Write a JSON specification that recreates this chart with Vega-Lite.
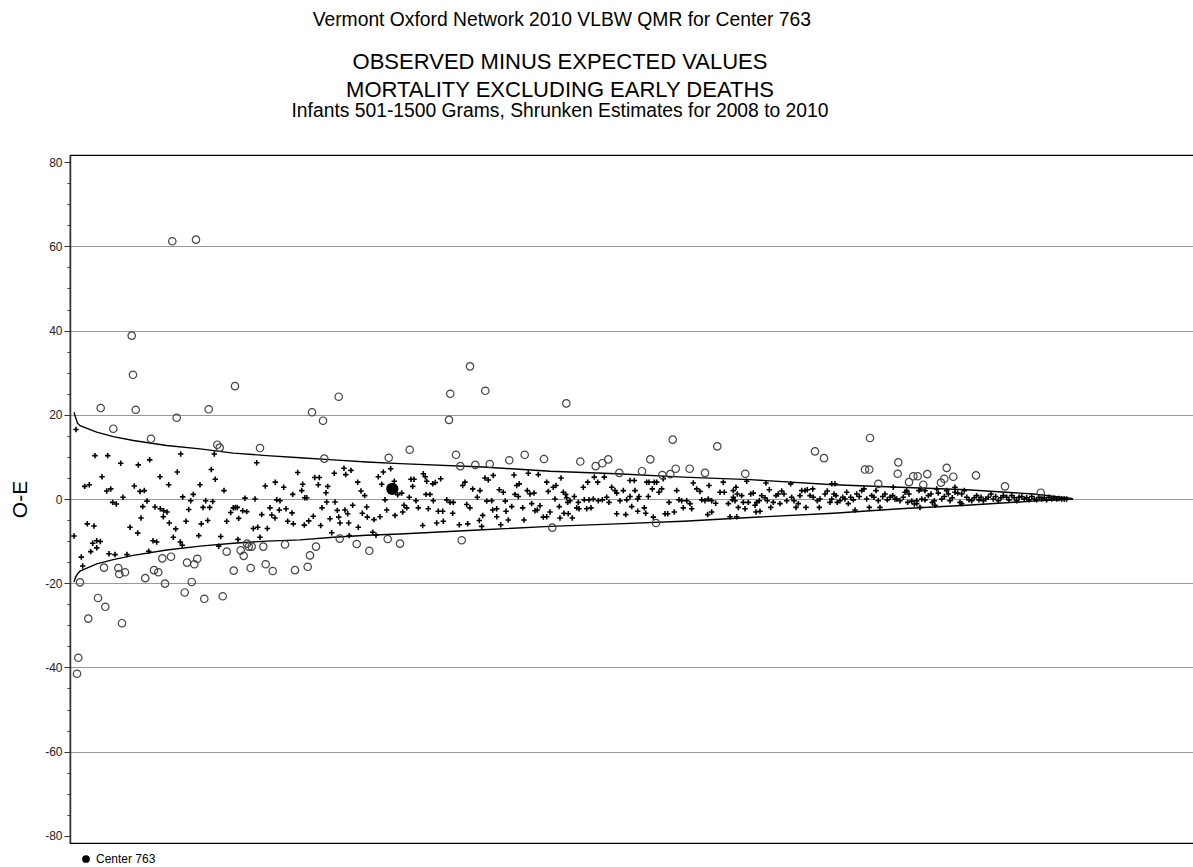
{
"$schema": "https://vega.github.io/schema/vega-lite/v6.json",
"background": "white",
"padding": {"left": 9, "top": 10, "right": 0, "bottom": 0},
"title": {"text": "Vermont Oxford Network 2010 VLBW QMR for Center 763", "fontSize": 19.3, "font": "Liberation Sans", "fontWeight": "normal", "color": "black", "anchor": "middle", "dx": -53, "offset": 20},
"datasets": {
"circles": [
{"r":8.3,"v":-37.7},{"r":7,"v":-41.5},{"r":18.3,"v":-28.4},{"r":28,"v":-23.5},{"r":35.3,"v":-25.6},{"r":52,"v":-29.5},{"r":10,"v":-19.8},{"r":48.3,"v":-16.4},{"r":49.3,"v":-17.8},{"r":55,"v":-17.4},{"r":34,"v":-16.3},{"r":75.3,"v":-18.8},{"r":84,"v":-16.9},{"r":88.3,"v":-17.4},{"r":95,"v":-20.1},{"r":92.3,"v":-14.1},{"r":101,"v":-13.7},{"r":114.7,"v":-22.2},{"r":117,"v":-15.1},{"r":124.3,"v":-15.5},{"r":127.3,"v":-14.2},{"r":121.7,"v":-19.7},{"r":134.3,"v":-23.7},{"r":152.7,"v":-23.1},{"r":156.7,"v":-12.5},{"r":163.7,"v":-17},{"r":170.7,"v":-12.2},{"r":173.7,"v":-13.5},{"r":177,"v":-10.6},{"r":178.7,"v":-11.3},{"r":181.7,"v":-11.3},{"r":180.7,"v":-16.4},{"r":193.3,"v":-11.3},{"r":195.7,"v":-15.5},{"r":202.7,"v":-17.1},{"r":215,"v":-10.8},{"r":225,"v":-16.9},{"r":237.7,"v":-16.1},{"r":240,"v":-13.4},{"r":246,"v":-11.3},{"r":269.7,"v":-9.4},{"r":286.7,"v":-10.7},{"r":299.3,"v":-12.3},{"r":317.7,"v":-9.5},{"r":330,"v":-10.6},
{"r":30.7,"v":21.6},{"r":65.7,"v":21.2},{"r":106.7,"v":19.3},{"r":138.7,"v":21.3},{"r":43.3,"v":16.7},{"r":81,"v":14.3},{"r":147.3,"v":12.9},{"r":149.7,"v":12.2},{"r":190,"v":12.1},{"r":242,"v":20.6},{"r":253,"v":18.6},{"r":254.3,"v":9.6},{"r":318.7,"v":9.8},{"r":102.3,"v":61.2},{"r":126,"v":61.6},{"r":61.7,"v":38.8},{"r":63,"v":29.5},{"r":165,"v":26.8},{"r":268.7,"v":24.3},{"r":400,"v":31.5},{"r":380.3,"v":25.0},{"r":415.3,"v":25.7},{"r":379,"v":18.8},{"r":496.3,"v":22.7},{"r":339.7,"v":11.7},{"r":386,"v":10.5},{"r":390.3,"v":7.8},{"r":405.3,"v":8.1},{"r":419.7,"v":8.3},{"r":439.3,"v":9.2},{"r":454.7,"v":10.5},{"r":474,"v":9.5},{"r":510.3,"v":8.9},{"r":525.7,"v":7.8},{"r":532.3,"v":8.5},{"r":538.3,"v":9.4},{"r":549.3,"v":6.2},{"r":572,"v":6.6},{"r":580.3,"v":9.4},{"r":592.3,"v":5.7},{"r":600.3,"v":5.9},{"r":605.7,"v":7.2},{"r":602.7,"v":14.1},{"r":619.7,"v":7.2},{"r":635,"v":6.2},{"r":647.3,"v":12.5},{"r":675.3,"v":6.0},{"r":391.7,"v":-9.8},{"r":482.3,"v":-6.8},{"r":586,"v":-5.7},{"r":745,"v":11.3},{"r":754,"v":9.7},{"r":795,"v":7.0},{"r":799.3,"v":7.0},{"r":828.3,"v":8.7},{"r":827.7,"v":6.0},{"r":808.3,"v":3.6},{"r":800,"v":14.5},{"r":843.3,"v":5.4},{"r":847.7,"v":5.4},{"r":857.3,"v":5.9},{"r":839,"v":4.0},{"r":853.3,"v":3.4},{"r":876.7,"v":7.4},{"r":883.3,"v":5.3},{"r":874.3,"v":4.8},{"r":871,"v":3.9},{"r":906,"v":5.6},{"r":935,"v":3.0},{"r":970.7,"v":1.5}
],
"crosses": [
{"r":6,"v":16.5},{"r":4,"v":-8.8},{"r":11.3,"v":-13.8},{"r":12.7,"v":-15.9},{"r":14.7,"v":3.0},{"r":19.3,"v":3.4},{"r":17.3,"v":-5.9},{"r":24,"v":-6.4},{"r":25,"v":10.3},{"r":32,"v":5.3},{"r":37.7,"v":10.3},{"r":22.7,"v":-10.5},{"r":26.7,"v":-9.9},{"r":30.3,"v":-10.1},{"r":20.7,"v":-12.5},{"r":26.7,"v":-11.6},{"r":36.7,"v":1.9},{"r":40.7,"v":2.4},{"r":42.7,"v":-0.8},{"r":46.3,"v":-1.2},{"r":39,"v":-13},{"r":45,"v":-13.2},{"r":50.7,"v":8.5},{"r":53,"v":0.4},{"r":57,"v":-13.2},{"r":60,"v":-6.7},{"r":64.3,"v":3.1},{"r":68.3,"v":8.1},{"r":67.7,"v":-8.1},{"r":70,"v":1.8},{"r":74.3,"v":2.0},{"r":71,"v":-4.5},{"r":72.7,"v":-1.8},{"r":77,"v":-0.5},{"r":78.7,"v":-12.4},{"r":79.7,"v":9.3},{"r":83,"v":-9.9},{"r":86.7,"v":-10.2},{"r":85,"v":-1.9},{"r":90,"v":5.3},{"r":90.3,"v":-2.3},{"r":93.7,"v":-2.8},{"r":93.3,"v":-4.2},{"r":97,"v":-3.1},{"r":98.7,"v":3.4},{"r":99.3,"v":-5.7},{"r":103.3,"v":-9.1},{"r":105.7,"v":-7.1},{"r":107.3,"v":6.4},{"r":110.7,"v":10.7},{"r":110.3,"v":-10.2},{"r":112.3,"v":-11},{"r":112.7,"v":0.5},{"r":116,"v":-5.3},{"r":118.7,"v":-2.5},{"r":120.7,"v":-0.4},{"r":123.3,"v":1.1},{"r":128.7,"v":-8.7},{"r":130,"v":3.4},{"r":131.3,"v":-5.9},{"r":133,"v":-2.0},{"r":135.7,"v":-0.4},{"r":137.7,"v":-5.1},{"r":139.7,"v":-2.0},{"r":141.3,"v":7.0},{"r":142.7,"v":-0.6},{"r":144.3,"v":10.7},{"r":145.3,"v":4.7},{"r":148.7,"v":-11.2},{"r":150.7,"v":-8.9},{"r":154,"v":2.0},{"r":156.7,"v":-5.3},{"r":160.7,"v":-3.2},{"r":163.3,"v":-2.1},{"r":165.3,"v":-2.0},{"r":167.3,"v":-2.0},{"r":168.7,"v":-4.6},{"r":168,"v":-9.6},{"r":172.7,"v":-2.8},{"r":176.7,"v":-3.0},{"r":175,"v":0.2},{"r":183.3,"v":-7.0},{"r":187.7,"v":-6.7},{"r":185,"v":0},{"r":186.7,"v":8.6},{"r":190,"v":-9.1},{"r":191.7,"v":-3.7},{"r":195.3,"v":3.1},{"r":197.3,"v":-7.0},{"r":200,"v":-2.1},{"r":201.7,"v":-3.8},{"r":205,"v":-4.5},{"r":205.3,"v":4.0},{"r":206.7,"v":-0.2},{"r":210,"v":-0.4},{"r":209.3,"v":-2.6},{"r":213.7,"v":2.8},{"r":216,"v":-2.3},{"r":217.7,"v":-5.3},{"r":223.3,"v":-5.9},{"r":222,"v":-3.3},{"r":222.7,"v":1.1},{"r":227.7,"v":6.3},{"r":231.7,"v":2.0},{"r":232.7,"v":3.5},{"r":234.7,"v":0.3},{"r":236.7,"v":0.3},{"r":234.3,"v":-6.2},{"r":238.7,"v":-5.2},{"r":243.3,"v":-4.1},{"r":244.7,"v":5.1},{"r":249.3,"v":5.1},{"r":248.3,"v":3.4},{"r":250.7,"v":-6.3},{"r":252,"v":-2.1},{"r":256,"v":1.5},{"r":257.7,"v":3.0},{"r":256.7,"v":-0.7},{"r":265,"v":-0.7},{"r":260,"v":-4.7},{"r":261.7,"v":-8.0},{"r":264.3,"v":6.1},{"r":267.3,"v":-2.7},{"r":268.7,"v":-4.3},{"r":270,"v":-5.7},{"r":274,"v":7.3},{"r":275.7,"v":5.8},{"r":281,"v":6.8},{"r":275,"v":-2.6},{"r":277.7,"v":-3.5},{"r":278.7,"v":-5.7},{"r":279.3,"v":-8.7},{"r":282.7,"v":-1.5},{"r":287.7,"v":4.0},{"r":288.3,"v":-6.7},{"r":291,"v":1.9},{"r":292.3,"v":-3.4},{"r":294.7,"v":0.8},{"r":296.7,"v":-1.9},{"r":297.3,"v":-4.3},{"r":302.7,"v":-7.9},{"r":304,"v":-4.9},{"r":306,"v":-8.6},{"r":308.3,"v":5.3},{"r":310,"v":-4.2},{"r":311.7,"v":3.5},{"r":313.3,"v":6.4},{"r":315,"v":-0.2},{"r":316.7,"v":-2.6},{"r":320.7,"v":7.2},{"r":324.3,"v":4.2},{"r":325,"v":-3.9},{"r":327.7,"v":1.0},
{"r":331.7,"v":1.4},{"r":334,"v":-1.5},{"r":332.7,"v":-3.1},{"r":336.7,"v":-2.1},{"r":341,"v":4.7},{"r":344,"v":4.7},{"r":342.7,"v":3.0},{"r":339.3,"v":0.4},{"r":346,"v":-0.4},{"r":348.3,"v":-2.1},{"r":352.7,"v":-6.3},{"r":353.3,"v":6.0},{"r":355.3,"v":5.3},{"r":356.7,"v":4.2},{"r":356,"v":1.1},{"r":360,"v":1.1},{"r":358.3,"v":-2.3},{"r":363.3,"v":-0.4},{"r":362.7,"v":3.6},{"r":365.3,"v":3.9},{"r":366.7,"v":-5.7},{"r":373.3,"v":-5.3},{"r":370.7,"v":4.8},{"r":368.3,"v":-2.9},{"r":372.7,"v":-2.9},{"r":376.7,"v":-0.2},{"r":380,"v":-0.8},{"r":383.3,"v":-0.8},{"r":382.7,"v":-3.4},{"r":389.3,"v":-6.1},{"r":392.7,"v":3.2},{"r":395,"v":4.0},{"r":396.7,"v":-1.3},{"r":400,"v":-2.1},{"r":397.7,"v":-5.9},{"r":402.7,"v":2.4},{"r":407.3,"v":0.4},{"r":409.3,"v":-5.1},{"r":411.7,"v":-6.5},{"r":410,"v":2.0},{"r":412.7,"v":-3.9},{"r":415,"v":5.0},{"r":418.3,"v":4.5},{"r":416.7,"v":-0.5},{"r":421.7,"v":-0.4},{"r":423.3,"v":5.6},{"r":422.7,"v":-2.6},{"r":426.7,"v":-2.3},{"r":426.7,"v":-4.2},{"r":429.3,"v":2.2},{"r":433.3,"v":1.6},{"r":430.7,"v":-6.1},{"r":435.3,"v":-0.5},{"r":436,"v":-2.9},{"r":438.3,"v":-5.0},{"r":441.7,"v":-1.8},{"r":444,"v":5.7},{"r":446.7,"v":3.2},{"r":449.3,"v":3.6},{"r":445,"v":1.1},{"r":448.3,"v":0.6},{"r":452.7,"v":-2.1},{"r":454,"v":-5.0},{"r":458.3,"v":6.1},{"r":457.3,"v":2.0},{"r":460,"v":1.2},{"r":461.7,"v":-1.1},{"r":465,"v":-2.8},{"r":467.3,"v":-2.6},{"r":464,"v":1.4},{"r":468.3,"v":5.8},{"r":470,"v":-1.6},{"r":473.3,"v":-4.3},{"r":476.7,"v":-4.2},{"r":476.7,"v":4.0},{"r":478.3,"v":1.8},{"r":480,"v":-3.1},{"r":483.3,"v":2.8},{"r":486,"v":3.2},{"r":485,"v":0},{"r":491,"v":5.0},{"r":489.3,"v":-1.8},{"r":490,"v":-4.5},{"r":494,"v":-3.4},{"r":493.3,"v":1.6},{"r":495.7,"v":1.1},{"r":497.7,"v":-0.8},
{"r":496.7,"v":0.3},{"r":500,"v":-0.4},{"r":498.3,"v":-3.5},{"r":502.3,"v":-4.5},{"r":504.3,"v":0.6},{"r":508.3,"v":-0.8},{"r":506.7,"v":-2.1},{"r":509,"v":-2.3},{"r":513.3,"v":2.8},{"r":517.7,"v":4.0},{"r":514.3,"v":-0.2},{"r":519,"v":-0.2},{"r":523.3,"v":0},{"r":516.7,"v":-2.3},{"r":521,"v":-2.1},{"r":524.3,"v":5.2},{"r":527.7,"v":4.0},{"r":528.3,"v":-0.4},{"r":532.3,"v":-0.2},{"r":534.3,"v":5.2},{"r":536.7,"v":0.4},{"r":539,"v":-0.8},{"r":541.7,"v":2.8},{"r":545,"v":2.0},{"r":546.7,"v":1.4},{"r":546.7,"v":-3.5},{"r":550,"v":-0.4},{"r":553.3,"v":2.0},{"r":555.7,"v":-3.7},{"r":556.7,"v":-0.2},{"r":560,"v":0.6},{"r":560,"v":4.4},{"r":564.3,"v":4.4},{"r":561.7,"v":-1.8},{"r":565,"v":2.0},{"r":567.7,"v":0},{"r":569,"v":0.6},{"r":567.7,"v":-2.9},{"r":574.3,"v":-2.1},{"r":575.7,"v":-3.4},{"r":576.7,"v":4.0},{"r":579,"v":4.0},{"r":578.3,"v":0.6},{"r":582.3,"v":2.4},{"r":584.3,"v":4.0},{"r":583.3,"v":-4.3},{"r":589,"v":1.6},{"r":591.7,"v":2.4},{"r":586.7,"v":4.0},{"r":593.3,"v":4.8},{"r":595,"v":-3.5},{"r":597.7,"v":-3.5},{"r":599,"v":-0.8},{"r":604.3,"v":-3.1},{"r":606.7,"v":2.0},{"r":609,"v":-0.2},{"r":611.7,"v":-0.4},{"r":613.3,"v":-2.1},{"r":616.7,"v":-0.4},{"r":620,"v":-1.1},{"r":621.7,"v":-2.3},{"r":623.3,"v":3.8},{"r":626.7,"v":2.4},{"r":630,"v":1.8},{"r":631.7,"v":-0.2},{"r":635,"v":-0.4},{"r":638.3,"v":0},{"r":641.7,"v":-0.4},{"r":639,"v":3.2},{"r":637.7,"v":-3.7},{"r":641.7,"v":-3.1},{"r":645.7,"v":-1.0},{"r":650,"v":1.6},{"r":654.3,"v":1.6},{"r":653.3,"v":4.0},{"r":658.3,"v":-1.1},{"r":662.3,"v":-0.2},{"r":660,"v":-4.2},{"r":663.3,"v":2.0},
{"r":663.3,"v":0.4},{"r":665,"v":-0.4},{"r":667.3,"v":1.2},{"r":666,"v":2.8},{"r":668.3,"v":-2.0},{"r":673.3,"v":-0.8},{"r":675,"v":-2.3},{"r":671.7,"v":0.8},{"r":678.3,"v":-0.8},{"r":680.7,"v":1.2},{"r":683.3,"v":1.4},{"r":685,"v":-1.5},{"r":686.7,"v":-0.8},{"r":689.3,"v":-0.4},{"r":686,"v":-3.1},{"r":690,"v":-2.9},{"r":691.7,"v":0.8},{"r":695,"v":0.3},{"r":697.3,"v":-0.4},{"r":696,"v":3.8},{"r":699.3,"v":2.2},{"r":700.7,"v":-2.0},{"r":703.3,"v":-0.8},{"r":706,"v":0.8},{"r":708.3,"v":1.2},{"r":710,"v":-1.1},{"r":711.7,"v":1.9},{"r":714,"v":1.2},{"r":716.7,"v":-0.4},{"r":720.7,"v":3.6},{"r":721.7,"v":0.4},{"r":724,"v":-0.4},{"r":726,"v":-2.0},{"r":728.3,"v":-1.1},{"r":730,"v":0.8},{"r":731.7,"v":2.0},{"r":735,"v":2.0},{"r":737.3,"v":2.2},{"r":736,"v":-2.0},{"r":740,"v":0.8},{"r":743.3,"v":0.4},{"r":742.7,"v":2.4},{"r":747.3,"v":-0.4},{"r":750,"v":0},{"r":749.3,"v":-2.0},{"r":755,"v":1.2},{"r":757.3,"v":1.9},{"r":760,"v":-0.8},{"r":761.7,"v":0},{"r":764,"v":1.2},{"r":766,"v":0.8},{"r":767.3,"v":-0.8},{"r":770,"v":-0.4},{"r":772.7,"v":0.4},{"r":775,"v":0},{"r":776.7,"v":1.6},{"r":778.3,"v":-1.1},{"r":780.7,"v":0.4},{"r":783.3,"v":-0.2},{"r":785,"v":-2.6},{"r":786.7,"v":1.2},{"r":789.3,"v":0.6},{"r":791.7,"v":2.0},{"r":794,"v":2.4},{"r":796.7,"v":0},{"r":799.3,"v":-2.0},{"r":801.7,"v":0.8},{"r":804,"v":0.4},{"r":806,"v":2.0},{"r":808.3,"v":-0.4},{"r":810,"v":-2.0},{"r":812.7,"v":0.6},{"r":815,"v":1.2},{"r":817.3,"v":-0.2},{"r":820,"v":0.4},{"r":822.7,"v":0.8},{"r":825,"v":0},{"r":823.3,"v":2.8},{"r":676.7,"v":4.2},{"r":761.7,"v":3.6},{"r":765,"v":3.6},{"r":666.7,"v":-4.2},
{"r":826.7,"v":0},{"r":830,"v":-0.4},{"r":833.3,"v":0.4},{"r":835,"v":1.6},{"r":839,"v":1.2},{"r":837.7,"v":-0.8},{"r":841.7,"v":-0.5},{"r":844.3,"v":-1.2},{"r":846.7,"v":-0.4},{"r":849,"v":2.0},{"r":851,"v":2.4},{"r":851.7,"v":0},{"r":855,"v":-0.2},{"r":858.3,"v":0.8},{"r":861,"v":1.2},{"r":862.3,"v":-0.8},{"r":864.3,"v":-0.4},{"r":866.7,"v":2.4},{"r":868.3,"v":1.4},{"r":871.7,"v":0},{"r":874.3,"v":0.6},{"r":876.7,"v":2.0},{"r":878.3,"v":1.2},{"r":880,"v":-0.4},{"r":882.3,"v":0.3},{"r":885,"v":1.6},{"r":887.7,"v":1.4},{"r":890,"v":-0.8},{"r":891.7,"v":1.2},{"r":894.3,"v":2.0},{"r":896.7,"v":0.4},{"r":899,"v":-0.2},{"r":901.7,"v":-0.4},{"r":904.3,"v":0.3},{"r":906.7,"v":0.8},{"r":909,"v":-0.2},{"r":911,"v":0.4},{"r":913.3,"v":-0.4},{"r":915.7,"v":0},{"r":918.3,"v":0.4},{"r":921,"v":1.2},{"r":923.3,"v":0},{"r":925.7,"v":0.6},{"r":928.3,"v":-0.4},{"r":931,"v":0.3},{"r":933.3,"v":0.8},{"r":936.7,"v":0.4},{"r":939,"v":-0.2},{"r":941.7,"v":0.8},{"r":944.3,"v":0.3},{"r":946.7,"v":-0.4},{"r":949,"v":0.4},{"r":951.7,"v":0.6},{"r":954.3,"v":0},{"r":956.7,"v":0.3},{"r":959,"v":-0.2},{"r":961.7,"v":0.6},{"r":964.3,"v":0},{"r":966.7,"v":-0.2},{"r":969,"v":0.4},{"r":971.7,"v":0},{"r":974.3,"v":0.3},{"r":976.7,"v":-0.2},{"r":979,"v":0.4},{"r":981.7,"v":0},{"r":984.3,"v":0.2},{"r":986.7,"v":0},{"r":989,"v":0.1},{"r":991.7,"v":0},{"r":994.3,"v":0},{"r":996.7,"v":0},{"r":850,"v":-2.0},{"r":865,"v":-1.5},{"r":891.7,"v":-1.1},{"r":855,"v":2.0},{"r":885,"v":2.8},{"r":836.7,"v":2.0},{"r":846.7,"v":-1.1}
],
"center": [{"r":322.3,"v":2.4,"name":"Center 763"}],
"limits": [
{"side":"upper","r":4,"v":20.6},{"side":"upper","r":5.5,"v":19.4},{"side":"upper","r":7.5,"v":18.0},{"side":"upper","r":10,"v":17.4},{"side":"upper","r":26.7,"v":15.9},{"side":"upper","r":43.3,"v":14.8},{"side":"upper","r":63.3,"v":13.9},{"side":"upper","r":96.7,"v":12.7},{"side":"upper","r":130,"v":11.9},{"side":"upper","r":163.3,"v":10.9},{"side":"upper","r":196.7,"v":10.3},{"side":"upper","r":230,"v":9.8},{"side":"upper","r":263.3,"v":9.3},{"side":"upper","r":296.7,"v":8.8},{"side":"upper","r":330,"v":8.4},{"side":"upper","r":413.3,"v":7.6},{"side":"upper","r":480,"v":6.6},{"side":"upper","r":546.7,"v":6.0},{"side":"upper","r":613.3,"v":5.2},{"side":"upper","r":680,"v":4.6},{"side":"upper","r":763.3,"v":3.4},{"side":"upper","r":830,"v":2.8},{"side":"upper","r":896.7,"v":2.2},{"side":"upper","r":963.3,"v":1.2},{"side":"upper","r":1000,"v":0.2},{"side":"upper","r":1003,"v":0},
{"side":"lower","r":4,"v":-19.7},{"side":"lower","r":5.5,"v":-18.6},{"side":"lower","r":7.5,"v":-17.8},{"side":"lower","r":10,"v":-17.1},{"side":"lower","r":26.7,"v":-15.4},{"side":"lower","r":43.3,"v":-14.4},{"side":"lower","r":63.3,"v":-13.4},{"side":"lower","r":96.7,"v":-12.1},{"side":"lower","r":130,"v":-11.2},{"side":"lower","r":163.3,"v":-10.5},{"side":"lower","r":196.7,"v":-10.0},{"side":"lower","r":230,"v":-9.7},{"side":"lower","r":263.3,"v":-9.1},{"side":"lower","r":296.7,"v":-8.6},{"side":"lower","r":330,"v":-8.3},{"side":"lower","r":413.3,"v":-7.3},{"side":"lower","r":480,"v":-6.5},{"side":"lower","r":546.7,"v":-5.9},{"side":"lower","r":613.3,"v":-5.3},{"side":"lower","r":680,"v":-4.4},{"side":"lower","r":763.3,"v":-3.4},{"side":"lower","r":830,"v":-2.3},{"side":"lower","r":896.7,"v":-1.5},{"side":"lower","r":963.3,"v":-0.5},{"side":"lower","r":1000,"v":-0.1},{"side":"lower","r":1003,"v":0}
]
},
"vconcat": [{
"width": 1150,
"height": 688,
"title": {"text": ["OBSERVED MINUS EXPECTED VALUES", "MORTALITY EXCLUDING EARLY DEATHS"], "subtitle": "Infants 501-1500 Grams, Shrunken Estimates for 2008 to 2010", "fontSize": 22, "lineHeight": 28, "font": "Liberation Sans", "fontWeight": "normal", "color": "black", "subtitleFont": "Liberation Sans", "subtitleFontSize": 19.3, "subtitleColor": "black", "subtitlePadding": 0, "anchor": "middle", "dx": -85, "offset": 33},
"encoding": {
 "x": {"field": "r", "type": "quantitative", "scale": {"domain": [0, 1150], "nice": false, "zero": false}, "axis": null},
 "y": {"field": "v", "type": "quantitative", "scale": {"domain": [-81.7, 81.7], "nice": false, "zero": false},
   "axis": {"title": "O-E", "titleFont": "Liberation Sans", "titleFontSize": 21, "titleFontWeight": "normal", "titleColor": "black", "titlePadding": 14,
     "values": [-80,-75,-70,-65,-60,-55,-50,-45,-40,-35,-30,-25,-20,-15,-10,-5,0,5,10,15,20,25,30,35,40,45,50,55,60,65,70,75,80],
     "labelExpr": "datum.value % 20 == 0 ? '' + datum.value : ''",
     "labelFont": "Liberation Sans", "labelFontSize": 12, "labelColor": "#222", "labelPadding": 2, "labelOverlap": false, "labelBound": false,
     "tickSize": {"condition": {"test": "datum.value % 20 == 0", "value": 6}, "value": 3},
     "tickColor": "#333", "domainColor": "#333", "domainWidth": 1.5,
     "grid": true, "gridColor": "#999999", "gridWidth": 1,
     "gridOpacity": {"condition": {"test": "datum.value % 20 == 0 && abs(datum.value) < 80", "value": 1}, "value": 0}}}
},
"layer": [
 {"data": {"name": "limits"}, "mark": {"type": "line", "color": "black", "strokeWidth": 1.4}, "encoding": {"detail": {"field": "side"}, "order": {"field": "r", "type": "quantitative"}}},
 {"data": {"name": "crosses"}, "mark": {"type": "point", "shape": "M-1,0L1,0M0,-1L0,1", "filled": false, "stroke": "black", "strokeWidth": 1.6, "size": 30, "opacity": 1}},
 {"data": {"name": "circles"}, "mark": {"type": "point", "shape": "circle", "filled": false, "stroke": "#444", "strokeWidth": 1.2, "size": 55, "opacity": 1}},
 {"data": {"name": "center"}, "mark": {"type": "point", "shape": "circle", "filled": true, "size": 150, "opacity": 1},
  "encoding": {"color": {"field": "name", "type": "nominal", "scale": {"range": ["black"]},
    "legend": {"title": null, "orient": "none", "legendX": 10, "legendY": 698, "labelFont": "Liberation Sans", "labelFontSize": 12, "labelColor": "black", "symbolSize": 60, "symbolType": "circle"}}}}
]
}],
"config": {"view": {"stroke": "black", "strokeWidth": 1.2}, "font": "Liberation Sans"}
}
